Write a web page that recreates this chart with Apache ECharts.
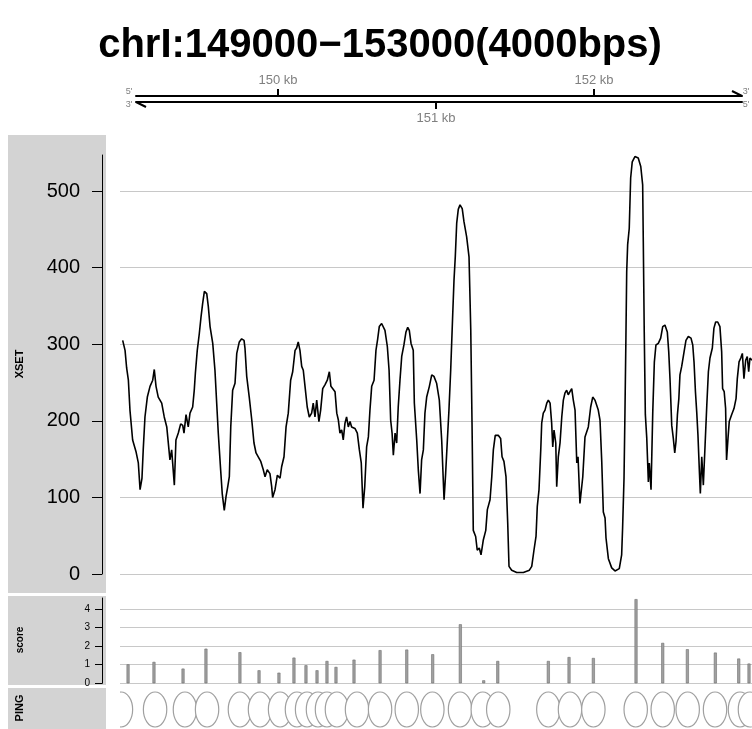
<!DOCTYPE html>
<html><head><meta charset="utf-8">
<script src="https://cdn.jsdelivr.net/npm/echarts@6/dist/echarts.min.js"></script>
<style>html,body{margin:0;padding:0;background:#fff}#c{width:752px;height:729px}</style>
</head><body><div id="c"></div>
<script>
const regionStart = 149000, regionEnd = 153000;
const titleText = 'chrI:149000\u2212153000(4000bps)';
const axisTicksTop = [150000, 152000];
const axisTicksBottom = [151000];
const xsetTicks = [0, 100, 200, 300, 400, 500];
const scoreTicks = [0, 1, 2, 3, 4];

const xsetSignal = [
[149017,305],[149032,292],[149042,269],[149053,253],[149063,214],[149080,175],[149101,160],[149116,145],[149127,110],[149139,125],
[149147,162],[149158,205],[149173,231],[149190,245],[149207,253],[149217,267],[149228,245],[149242,231],[149264,223],[149280,205],
[149296,192],[149308,194],[149316,149],[149327,162],[149344,116],[149354,175],[149369,184],[149384,196],[149397,194],[149405,184],
[149418,208],[149432,192],[149443,210],[149460,218],[149470,240],[149477,262],[149489,292],[149502,314],[149513,336],[149523,353],
[149534,369],[149549,366],[149559,349],[149570,323],[149587,301],[149601,266],[149612,223],[149622,184],[149637,136],[149647,105],
[149660,83],[149671,101],[149682,114],[149692,127],[149701,192],[149713,240],[149728,249],[149739,288],[149755,303],[149770,307],
[149785,305],[149791,295],[149802,258],[149818,231],[149834,201],[149848,171],[149861,158],[149875,153],[149891,147],[149907,136],
[149918,127],[149932,136],[149949,131],[149960,114],[149966,100],[149981,110],[149996,129],[150013,125],[150023,140],[150038,153],
[150051,192],[150065,210],[150080,253],[150093,264],[150108,292],[150118,295],[150128,303],[150139,292],[150150,271],[150160,266],
[150171,245],[150185,218],[150198,205],[150213,210],[150223,223],[150234,205],[150245,227],[150259,199],[150270,214],[150283,242],
[150297,247],[150312,253],[150325,264],[150335,245],[150346,247],[150361,238],[150372,210],[150382,201],[150392,184],[150403,188],
[150413,175],[150424,197],[150434,205],[150445,192],[150456,199],[150466,192],[150487,190],[150502,184],[150515,162],[150527,145],
[150538,86],[150549,114],[150561,166],[150572,179],[150582,214],[150593,245],[150608,253],[150620,292],[150631,307],[150641,323],
[150656,327],[150666,325],[150677,318],[150692,297],[150703,266],[150713,201],[150722,184],[150730,155],[150741,184],[150751,171],
[150761,218],[150772,253],[150783,284],[150797,299],[150810,316],[150821,322],[150831,318],[150842,301],[150856,292],[150863,223],
[150878,175],[150888,136],[150899,105],[150909,149],[150920,162],[150930,210],[150941,231],[150958,245],[150973,260],[150987,258],
[151004,249],[151021,227],[151036,175],[151051,97],[151061,131],[151072,175],[151082,214],[151093,266],[151106,340],[151114,384],
[151122,414],[151131,458],[151141,476],[151152,482],[151166,477],[151177,460],[151194,440],[151209,414],[151220,319],[151228,197],
[151236,57],[151251,49],[151261,31],[151274,34],[151285,25],[151299,44],[151315,57],[151325,84],[151342,97],[151353,127],
[151363,162],[151375,181],[151394,181],[151409,177],[151418,153],[151430,147],[151443,127],[151454,66],[151462,10],[151479,5],
[151511,2],[151553,2],[151591,5],[151606,10],[151620,31],[151633,49],[151641,88],[151652,110],[151663,162],[151669,197],
[151679,210],[151690,214],[151701,223],[151711,227],[151722,223],[151732,197],[151739,166],[151747,188],[151758,171],[151764,114],
[151774,153],[151785,171],[151796,205],[151806,227],[151816,236],[151827,240],[151837,234],[151848,238],[151859,242],[151869,227],
[151880,214],[151891,145],[151899,153],[151911,92],[151922,90],[151929,127],[151943,179],[151954,181],[151964,192],[151979,218],
[151992,231],[152006,227],[152027,214],[152038,201],[152049,147],[152059,81],[152070,73],[152076,47],[152091,20],[152112,8],
[152133,4],[152160,7],[152175,25],[152181,60],[152190,125],[152196,212],[152202,308],[152207,395],[152213,430],[152223,451],
[152232,517],[152242,538],[152259,545],[152280,543],[152296,532],[152308,508],[152312,434],[152318,316],[152325,208],[152334,177],
[152344,120],[152350,145],[152361,110],[152372,212],[152382,277],[152392,299],[152407,301],[152422,308],[152435,323],[152449,325],
[152464,316],[152473,290],[152481,255],[152492,194],[152502,177],[152511,158],[152519,173],[152528,208],[152537,229],[152544,260],
[152555,271],[152570,290],[152582,305],[152597,310],[152614,308],[152625,299],[152633,277],[152642,238],[152650,212],[152658,181],
[152667,134],[152673,105],[152682,153],[152692,116],[152703,168],[152714,221],[152724,264],[152734,282],[152749,295],[152759,321],
[152770,329],[152783,329],[152797,323],[152808,290],[152814,242],[152824,238],[152833,216],[152839,149],[152848,177],[152856,199],
[152871,208],[152886,216],[152899,229],[152907,255],[152918,277],[152929,282],[152939,288],[152949,255],[152960,279],[152970,284],
[152979,264],[152987,282],[153000,279]
];

const scorePos = [149051,149215,149399,149544,149759,149880,150006,150101,150177,150247,150310,150367,150481,150646,
  150815,150979,151154,151302,151391,151711,151842,151996,152266,152435,152591,152768,152916,152981];
const scoreVal = [1.02,1.15,0.79,1.86,1.67,0.70,0.57,1.38,0.97,0.70,1.20,0.88,1.27,1.78,
  1.81,1.56,3.17,0.16,1.20,1.20,1.41,1.36,4.52,2.17,1.83,1.65,1.33,1.06];
const pingPos = [149006,149222,149411,149551,149759,149886,150013,150120,150184,150253,150310,150373,150500,150646,
  150815,150977,151152,151296,151394,151711,151848,151996,152264,152435,152593,152766,152924,152987];

const FONT = "'Liberation Sans', Arial, Helvetica, sans-serif";
const plotLeft = 120, plotRight = 752;
const bpPerPx = (regionEnd - regionStart) / (plotRight - plotLeft);
const strandLeft = 136, strandRight = 742;
const trackMin = regionStart + (strandLeft - plotLeft) * bpPerPx;
const trackMax = regionEnd - (plotRight - strandRight) * bpPerPx;
const kbLabel = v => (v / 1000) + ' kb';
const gridColor = '#c8c8c8';

const chart = echarts.init(document.getElementById('c'), null, {renderer: 'canvas'});

const gridLineSeries = (xi, yi, ticks) => ({
  type: 'line', xAxisIndex: xi, yAxisIndex: yi, data: [], silent: true, z: 1,
  markLine: {
    silent: true, symbol: ['none', 'none'], label: {show: false}, animation: false,
    lineStyle: {color: gridColor, type: 'solid', width: 1},
    emphasis: {disabled: true},
    data: ticks.map(v => ({yAxis: v}))
  }
});

const panel = (y, h) => ({type: 'rect', silent: true, z: -10, shape: {x: 8, y: y, width: 98, height: h}, style: {fill: '#d3d3d3'}});
const vlabel = (txt, y, size) => ({type: 'text', silent: true, x: 20, y: y, rotation: Math.PI / 2,
  style: {text: txt, font: 'bold ' + size + 'px ' + FONT, fill: '#000', align: 'center', verticalAlign: 'middle', textAlign: 'center', textVerticalAlign: 'middle'}});
const smallText = (txt, x, y) => ({type: 'text', silent: true, x: x, y: y,
  style: {text: txt, font: '9px ' + FONT, fill: '#808080', align: 'center', verticalAlign: 'middle', textAlign: 'center', textVerticalAlign: 'middle'}});

chart.setOption({
  animation: false,
  backgroundColor: '#ffffff',
  graphic: [
    panel(135, 458), panel(596, 89), panel(688, 41),
    vlabel('XSET', 364, 11), vlabel('score', 640, 10), vlabel('PING', 708, 11),
    {type: 'text', silent: true, x: 380, y: 46,
     style: {text: titleText, font: 'bold 40px ' + FONT, fill: '#000', align: 'center', verticalAlign: 'middle', textAlign: 'center', textVerticalAlign: 'middle'}},
    smallText("5'", 129, 92), smallText("3'", 129, 105),
    smallText("3'", 746, 92), smallText("5'", 746, 105)
  ],
  grid: [
    {left: strandLeft, right: plotRight - strandRight, top: 96, height: 6},
    {left: plotLeft, right: 0, top: 155, height: 419},
    {left: plotLeft, right: 0, top: 598, height: 85.3},
    {left: plotLeft, right: 0, top: 688, height: 41}
  ],
  xAxis: [
    {gridIndex: 0, type: 'value', min: trackMin, max: trackMax, position: 'top',
     axisLine: {show: true, onZero: false, lineStyle: {color: '#000', width: 2}},
     axisTick: {show: true, customValues: axisTicksTop, length: 7, lineStyle: {color: '#000', width: 2}},
     axisLabel: {show: true, customValues: axisTicksTop, formatter: kbLabel, color: '#808080', fontSize: 13, margin: 9, fontFamily: FONT},
     splitLine: {show: false}},
    {gridIndex: 0, type: 'value', min: trackMin, max: trackMax, position: 'bottom',
     axisLine: {show: true, onZero: false, lineStyle: {color: '#000', width: 2}},
     axisTick: {show: true, customValues: axisTicksBottom, length: 7, lineStyle: {color: '#000', width: 2}},
     axisLabel: {show: true, customValues: axisTicksBottom, formatter: kbLabel, color: '#808080', fontSize: 13, margin: 10, fontFamily: FONT},
     splitLine: {show: false}},
    {gridIndex: 1, type: 'value', min: regionStart, max: regionEnd, show: false},
    {gridIndex: 2, type: 'value', min: regionStart, max: regionEnd, show: false},
    {gridIndex: 3, type: 'value', min: regionStart, max: regionEnd, show: false}
  ],
  yAxis: [
    {gridIndex: 0, type: 'value', min: 0, max: 6, inverse: true, show: false},
    {gridIndex: 1, type: 'value', min: 0, max: 547, position: 'left', offset: 18,
     axisLine: {show: true, lineStyle: {color: '#000', width: 1}},
     axisTick: {show: true, customValues: xsetTicks, length: 10, lineStyle: {color: '#000', width: 1}},
     axisLabel: {show: true, customValues: xsetTicks, color: '#000', fontSize: 20, margin: 22, fontFamily: FONT},
     splitLine: {show: false}},
    {gridIndex: 2, type: 'value', min: 0, max: 4.58, position: 'left', offset: 18,
     axisLine: {show: true, lineStyle: {color: '#000', width: 1}},
     axisTick: {show: true, customValues: scoreTicks, length: 7, lineStyle: {color: '#000', width: 1}},
     axisLabel: {show: true, customValues: scoreTicks, color: '#000', fontSize: 10, margin: 12, fontFamily: FONT},
     splitLine: {show: false}},
    {gridIndex: 3, type: 'value', min: -1, max: 1, show: false}
  ],
  series: [
    gridLineSeries(2, 1, xsetTicks),
    gridLineSeries(3, 2, scoreTicks),
    {type: 'line', xAxisIndex: 0, yAxisIndex: 0, clip: false, silent: true, showSymbol: false, symbol: 'none',
     data: [[trackMax, 0], [trackMax - 10 * bpPerPx, -5]], lineStyle: {color: '#000', width: 2}},
    {type: 'line', xAxisIndex: 0, yAxisIndex: 0, clip: false, silent: true, showSymbol: false, symbol: 'none',
     data: [[trackMin, 6], [trackMin + 10 * bpPerPx, 11]], lineStyle: {color: '#000', width: 2}},
    {type: 'line', name: 'XSET', xAxisIndex: 2, yAxisIndex: 1, z: 5, clip: true, silent: true,
     showSymbol: false, symbol: 'none', data: xsetSignal, lineStyle: {color: '#000', width: 1.6}},
    {type: 'bar', name: 'score', xAxisIndex: 3, yAxisIndex: 2, z: 5, barWidth: 3, silent: true,
     data: scorePos.map((p, i) => [p, scoreVal[i]]),
     itemStyle: {color: '#a0a0a0', borderColor: '#6e6e6e', borderWidth: 0.6}},
    {type: 'custom', name: 'PING', xAxisIndex: 4, yAxisIndex: 3, clip: true, silent: true,
     data: pingPos.map(p => [p, 0]),
     renderItem: (params, api) => {
       const c = api.coord([api.value(0), api.value(1)]);
       return {type: 'ellipse', shape: {cx: c[0], cy: c[1] + 1, rx: 11.7, ry: 17.5},
               style: {fill: '#ffffff', stroke: '#a0a0a0', lineWidth: 1.2}};
     }}
  ]
});
</script></body></html>
